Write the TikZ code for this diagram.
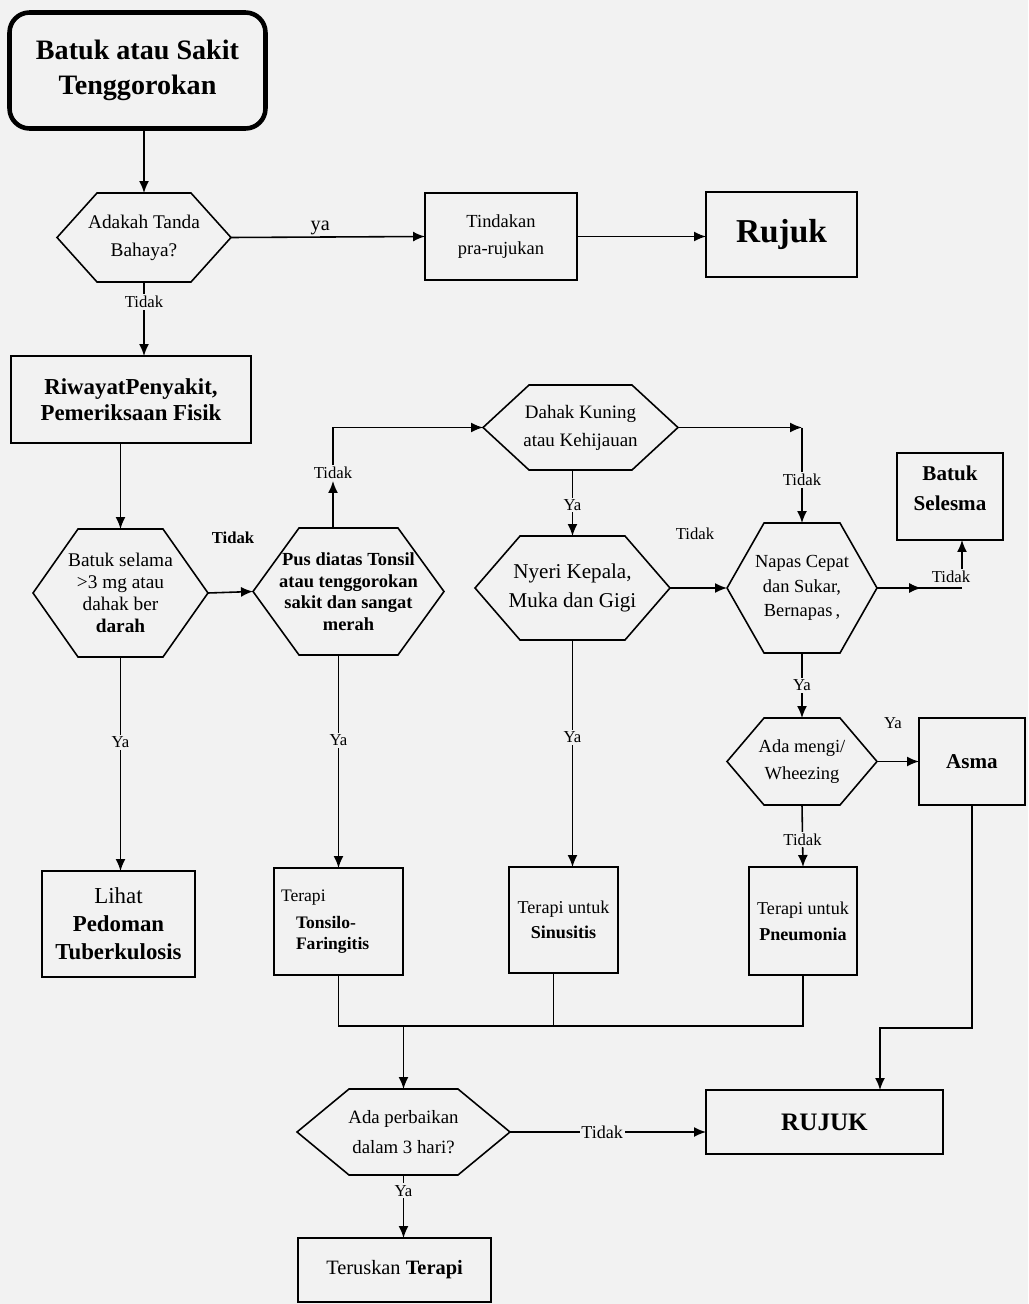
\documentclass[tikz,border=0pt]{standalone}
\usepackage{fontspec}
\setmainfont{Liberation Serif}
\usetikzlibrary{arrows.meta,calc}

\definecolor{paper}{gray}{0.95}
\tikzset{
  box/.style={draw, line width=0.9pt, align=center, inner sep=2pt, outer sep=0pt},
  hexa/.style={align=center, inner sep=0pt, outer sep=0pt},
  lbl/.style={font=\fontsize{9.5}{11}\selectfont, inner sep=1pt},
  arr/.style={line width=0.9pt, -{Latex[length=2.4mm,width=2mm]}},
  ln/.style={line width=0.9pt}
}

\begin{document}
\begin{tikzpicture}[x=0.02cm, y=-0.02cm]
    \fill[paper] (0,0) rectangle (1028,1304);
    \useasboundingbox (0,0) rectangle (1028,1304);

    \path (137.5,70.5) node[box, line width=2.6pt, rounded corners=0.4cm, minimum width=5.12cm, minimum height=2.32cm, font=\fontsize{16}{20}\selectfont\bfseries] (start) {Batuk atau Sakit\\Tenggorokan};
    \path (144,237.5) node[hexa, minimum width=3.48cm, minimum height=1.78cm, font=\fontsize{11}{16}\selectfont] (bahaya) {Adakah Tanda\\Bahaya?};
    \path (501,236.5) node[box, minimum width=3.04cm, minimum height=1.74cm, font=\fontsize{10.5}{15}\selectfont] (tindakan) {Tindakan\\pra-rujukan};
    \path (781.5,234.5) node[box, minimum width=3.02cm, minimum height=1.7cm, font=\fontsize{19}{22}\selectfont\bfseries] (rujuk) {Rujuk};
    \path (131,399.5) node[box, minimum width=4.8cm, minimum height=1.74cm, font=\fontsize{13}{15}\selectfont\bfseries] (riwayat) {RiwayatPenyakit,\\Pemeriksaan Fisik};

    \path (120.5,593) node[hexa, minimum width=3.5cm, minimum height=2.56cm, font=\fontsize{11}{12.5}\selectfont] (batuk) {Batuk selama\\>3 mg atau\\dahak ber\\\textbf{darah}};
    \path (348.5,591.5) node[hexa, minimum width=3.82cm, minimum height=2.54cm, font=\fontsize{10.5}{12.3}\selectfont\bfseries] (pus) {Pus diatas Tonsil\\atau tenggorokan\\sakit dan sangat\\merah};
    \path (118.5,924) node[box, minimum width=3.06cm, minimum height=2.12cm, font=\fontsize{13}{16}\selectfont] (lihat) {Lihat\\\textbf{Pedoman}\\\textbf{Tuberkulosis}};
    \path (338.5,921.5) node[box, minimum width=2.58cm, minimum height=2.14cm, text width=2.3cm, align=left, font=\fontsize{10}{11.5}\selectfont] (tonsilo) {Terapi\\[4pt]\hspace*{0.3cm}\textbf{Tonsilo-}\\\hspace*{0.3cm}\textbf{Faringitis}};

    \path (580.5,427.5) node[hexa, minimum width=3.9cm, minimum height=1.7cm, font=\fontsize{10.8}{16}\selectfont] (dahak) {Dahak Kuning\\atau Kehijauan};
    \path (572.5,588) node[hexa, minimum width=3.9cm, minimum height=2.08cm, font=\fontsize{12}{16}\selectfont] (nyeri) {Nyeri Kepala,\\Muka dan Gigi};
    \path (802,588) node[hexa, minimum width=3.0cm, minimum height=2.6cm, font=\fontsize{10.5}{14}\selectfont] (napas) {Napas Cepat\\dan Sukar,\\Bernapas\,,};
    \path (950,496.5) node[box, minimum width=2.12cm, minimum height=1.74cm, font=\fontsize{12}{17}\selectfont\bfseries] (selesma) {Batuk\\Selesma\\[-8pt]\mbox{}};
    \path (802,761.5) node[hexa, minimum width=3.0cm, minimum height=1.74cm, font=\fontsize{10.5}{15}\selectfont] (mengi) {Ada mengi/\\Wheezing};
    \path (972,761.5) node[box, minimum width=2.12cm, minimum height=1.74cm, font=\fontsize{12}{14}\selectfont\bfseries] (asma) {Asma};
    \path (563.5,920) node[box, minimum width=2.18cm, minimum height=2.12cm, font=\fontsize{10.3}{14}\selectfont] (sinusitis) {Terapi untuk\\\textbf{Sinusitis}};
    \path (803,921) node[box, minimum width=2.16cm, minimum height=2.16cm, font=\fontsize{10.3}{15}\selectfont] (pneumonia) {Terapi untuk\\\textbf{Pneumonia}};

    \path (403.5,1132) node[hexa, minimum width=4.26cm, minimum height=1.72cm, font=\fontsize{10.7}{17}\selectfont] (perbaikan) {Ada perbaikan\\dalam 3 hari?};
    \path (824.5,1122) node[box, minimum width=4.74cm, minimum height=1.28cm, font=\fontsize{14.3}{16}\selectfont\bfseries] (rujukb) {RUJUK};
    \path (394.5,1270) node[box, minimum width=3.86cm, minimum height=1.28cm, font=\fontsize{11.6}{14}\selectfont] (teruskan) {Teruskan \textbf{Terapi}};

    % hexagon outlines
    \foreach \n/\d in {bahaya/40, batuk/45, pus/46, dahak/46, nyeri/45, napas/37, mengi/37, perbaikan/52}
      \draw[ln] (\n.west) -- ($(\n.north west)+(\d,0)$) -- ($(\n.north east)+(-\d,0)$) -- (\n.east)
        -- ($(\n.south east)+(-\d,0)$) -- ($(\n.south west)+(\d,0)$) -- cycle;

    \draw[arr] (start.south -| bahaya.north) -- (bahaya.north);
    \draw[arr] (bahaya.east) -- node[pos=0.46, above, inner sep=1pt, font=\fontsize{11.5}{13}\selectfont] (ya1) {ya} (tindakan.west);
    \draw[arr] (tindakan.east) -- (tindakan.east -| rujuk.west);
    \draw[arr] (bahaya.south) -- node[lbl, fill=paper, pos=0.27] (t1) {Tidak} (bahaya.south |- riwayat.north);
    \draw[arr] (riwayat.south -| batuk.north) -- (batuk.north);

    \draw[arr] (batuk.east) -- (pus.west);
    \path (233,538) node[lbl, font=\fontsize{9.5}{11}\selectfont\bfseries] (t2) {Tidak};
    \draw[arr] (batuk.south) -- node[lbl, fill=paper, pos=0.4] (y1) {Ya} (batuk.south |- lihat.north);
    \draw[arr] (pus.south -| tonsilo.north) -- node[lbl, fill=paper, pos=0.4] (y2) {Ya} (tonsilo.north);

    \path (333,473) node[lbl] (t3) {Tidak};
    \draw[arr] (pus.north -| t3) -- (t3.south);
    \draw[arr] (t3.north) |- (dahak.west);

    \draw[arr] (dahak.south -| nyeri.north) -- node[lbl, fill=paper, pos=0.53] (y3) {Ya} (nyeri.north);
    \coordinate (k1) at (napas.north |- dahak.east);
    \draw[arr] (dahak.east) -- (k1);
    \draw[arr] (k1) -- node[lbl, fill=paper, pos=0.55] (t4) {Tidak} (napas.north);

    \draw[arr] (nyeri.east) -- (napas.west);
    \path (695,534) node[lbl] (t5) {Tidak};

    \coordinate (k2) at (962,588);
    \draw[ln] (napas.east) -- (k2);
    \draw[arr] (napas.east) -- ($(napas.east)!0.52!(k2)$);
    \path (951,577) node[lbl] (t6) {Tidak};
    \draw[arr] (t6.north -| k2) -- (k2 |- selesma.south);

    \draw[arr] (napas.south) -- node[lbl, fill=paper, pos=0.5] (y4) {Ya} (mengi.north);
    \draw[arr] (mengi.east) -- (asma.west);
    \path (893,723) node[lbl] (y5) {Ya};
    \draw[arr] (mengi.south) -- node[lbl, fill=paper, pos=0.56] (t7) {Tidak} (pneumonia.north);
    \draw[arr] (nyeri.south) -- node[lbl, fill=paper, pos=0.43] (y6) {Ya} (nyeri.south |- sinusitis.north);

    % join of the three therapies
    \coordinate (join) at (403.5,1026);
    \draw[ln] (tonsilo.south) -- (tonsilo.south |- join) -- (pneumonia.south |- join) -- (pneumonia.south);
    \draw[ln] ($(sinusitis.south)+(-10,0)$) -- ($(sinusitis.south |- join)+(-10,0)$);
    \draw[arr] (join) -- (perbaikan.north);

    \draw[arr] (perbaikan.east) -- node[lbl, fill=paper, pos=0.47, font=\fontsize{10.3}{12}\selectfont] (t8) {Tidak} (perbaikan.east -| rujukb.west);
    \coordinate (k3) at (880,1028);
    \draw[arr] (asma.south) |- (k3) -- (k3 |- rujukb.north);
    \draw[arr] (perbaikan.south) -- node[lbl, fill=paper, pos=0.25] (y7) {Ya} (perbaikan.south |- teruskan.north);
\end{tikzpicture}
\end{document}
